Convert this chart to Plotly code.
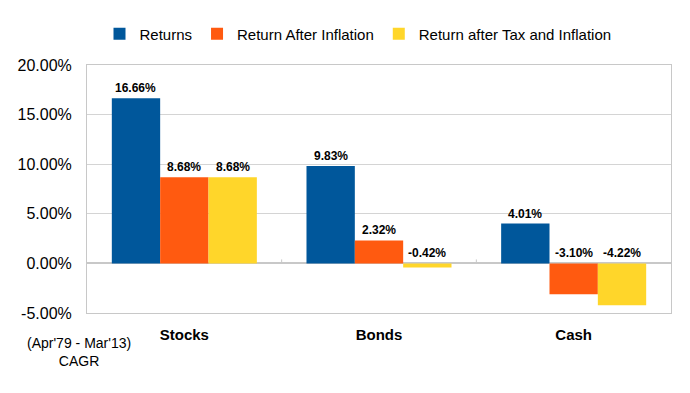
import plotly.graph_objects as go

categories = ["Stocks", "Bonds", "Cash"]
series_names = ["Returns", "Return After Inflation", "Return after Tax and Inflation"]
returns = [16.66, 9.83, 4.01]
after_inflation = [8.68, 2.32, -3.10]
after_tax_inflation = [8.68, -0.42, -4.22]
series_values = [returns, after_inflation, after_tax_inflation]
colors = ["#00579b", "#ff5a10", "#ffd62a"]
y_ticks = [-5, 0, 5, 10, 15, 20]
y_tick_labels = ["-5.00%", "0.00%", "5.00%", "10.00%", "15.00%", "20.00%"]
note_text = "(Apr'79 - Mar'13)<br>CAGR"

FONT = "Liberation Sans, Arial, Helvetica, sans-serif"
BARGAP = 0.255
bar_w = (1 - BARGAP) / 3

# page has an 8px body margin: the figure starts at (8, 8) in the window
OFF = 8
W, H = 690 - OFF, 393 - OFF
ML, MR, MT, MB = 87 - OFF, 19, 65 - OFF, 80
pw, ph = W - ML - MR, H - MT - MB

fig = go.Figure()
for name, vals, col in zip(series_names, series_values, colors):
    fig.add_trace(go.Bar(x=categories, y=vals, name=name, marker=dict(color=col, line=dict(width=0))))

annotations = []
for j, vals in enumerate(series_values):
    for i, v in enumerate(vals):
        annotations.append(dict(
            x=i + (j - 1) * bar_w, y=max(v, 0), xref="x", yref="y",
            text=f"{v:.2f}%", showarrow=False, yanchor="bottom", yshift=1,
            font=dict(family=FONT, size=12, color="black", weight="bold"),
        ))
annotations.append(dict(
    x=(79 - 87) / pw, y=(393 - MB - 352) / ph, xref="paper", yref="paper",
    text=note_text, showarrow=False, xanchor="center", yanchor="middle",
    font=dict(family=FONT, size=14, color="black"),
))

shapes = []
for b in [0.5, 1.5]:
    shapes.append(dict(type="line", xref="x", yref="y", x0=b, x1=b, y0=0, y1=0.4,
                       line=dict(color="#c8c8c8", width=1)))

fig.update_layout(
    width=W, height=H,
    margin=dict(l=ML, r=MR, t=MT, b=MB, autoexpand=False),
    paper_bgcolor="white", plot_bgcolor="white",
    barmode="group", bargap=BARGAP, bargroupgap=0,
    font=dict(family=FONT, size=15, color="black"),
    showlegend=True,
    legend=dict(orientation="h", x=(358 - 87) / pw, xanchor="center", y=1 + (65 - 34) / ph,
                yanchor="middle", font=dict(family=FONT, size=15, color="black"),
                itemwidth=30, tracegroupgap=0, traceorder="normal"),
    annotations=annotations,
    shapes=shapes,
)
fig.update_xaxes(
    automargin=False,
    showline=True, linecolor="#c8c8c8", linewidth=1, mirror=True,
    showgrid=False, ticks="", ticklabelstandoff=8,
    tickfont=dict(family=FONT, size=15, color="black", weight="bold"),
)
fig.update_yaxes(
    automargin=False,
    range=[-5, 20], tickvals=y_ticks, ticktext=y_tick_labels,
    showline=True, linecolor="#c8c8c8", linewidth=1, mirror=True,
    showgrid=True, gridcolor="#d4d4d4", gridwidth=1,
    zeroline=True, zerolinecolor="#c8c8c8", zerolinewidth=1.5,
    ticks="", ticklabelstandoff=11,
    tickfont=dict(family=FONT, size=16, color="black"),
)
fig.write_html("out.html")
